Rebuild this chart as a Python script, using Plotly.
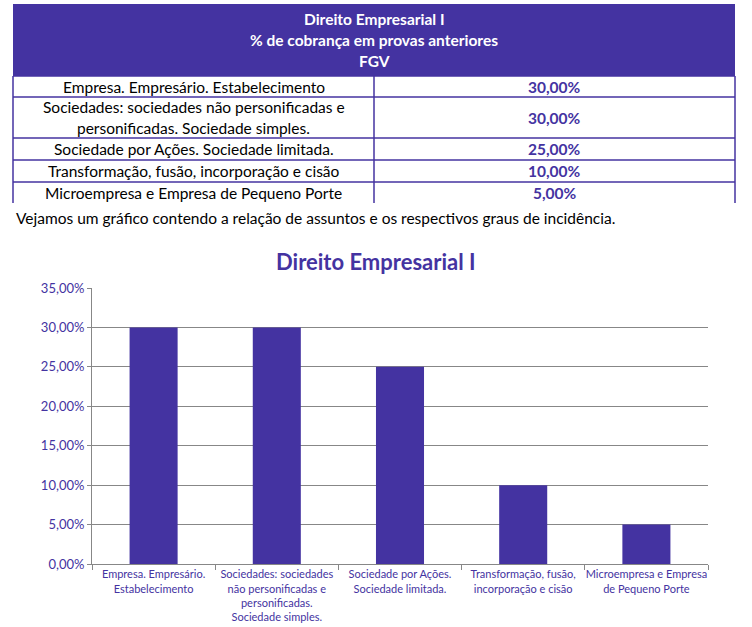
import plotly.graph_objects as go

# ---------------- data ----------------
table_title_lines = ["Direito Empresarial I", "% de cobrança em provas anteriores", "FGV"]
table_topics = [
    "Empresa. Empresário. Estabelecimento",
    "Sociedades: sociedades não personificadas e<br>personificadas. Sociedade simples.",
    "Sociedade por Ações. Sociedade limitada.",
    "Transformação, fusão, incorporação e cisão",
    "Microempresa e Empresa de Pequeno Porte",
]
chart_categories = [
    "Empresa. Empresário.<br>Estabelecimento",
    "Sociedades: sociedades<br>não personificadas e<br>personificadas.<br>Sociedade simples.",
    "Sociedade por Ações.<br>Sociedade limitada.",
    "Transformação, fusão,<br>incorporação e cisão",
    "Microempresa e Empresa<br>de Pequeno Porte",
]
percent_values = [30, 30, 25, 10, 5]
intro_text = "Vejamos um gráfico contendo a relação de assuntos e os respectivos graus de incidência."
chart_title = "Direito Empresarial I"

# ---------------- layout constants ----------------
W, H = 752, 627
PURPLE = "#4433A1"
GRID = "#878787"
FONT = "Lato"


def fx(x):
    return x / W


def fy(y):
    return 1 - y / H


def fmt(v):
    return f"{v:.2f}".replace(".", ",") + "%"


T_LEFT, T_RIGHT, T_DIV = 13, 735, 374
T_TOP, T_HEAD_BOTTOM = 4, 76
row_heights = [21, 41, 22, 22, 21]
line_step = 20

shapes = []
annotations = []

# header
shapes.append(dict(type="rect", xref="paper", yref="paper",
                   x0=fx(T_LEFT), x1=fx(T_RIGHT), y0=fy(T_HEAD_BOTTOM), y1=fy(T_TOP),
                   fillcolor=PURPLE, line=dict(width=0), layer="below"))
head_center = (T_TOP + T_HEAD_BOTTOM) / 2
for i, line in enumerate(table_title_lines):
    yc = head_center + (i - (len(table_title_lines) - 1) / 2) * 21
    annotations.append(dict(text=f"<b>{line}</b>", x=fx((T_LEFT + T_RIGHT) / 2), y=fy(yc),
                            xref="paper", yref="paper", showarrow=False,
                            xanchor="center", yanchor="middle",
                            font=dict(family=FONT, size=15.5, color="white")))

# body rows
y = T_HEAD_BOTTOM
bottom = T_HEAD_BOTTOM + sum(row_heights)
for x in (T_LEFT, T_DIV, T_RIGHT):
    shapes.append(dict(type="line", xref="paper", yref="paper",
                       x0=fx(x), x1=fx(x), y0=fy(T_HEAD_BOTTOM), y1=fy(bottom),
                       line=dict(color=PURPLE, width=1.5)))
for i, (topic, val) in enumerate(zip(table_topics, percent_values)):
    h = row_heights[i]
    if i > 0:
        shapes.append(dict(type="line", xref="paper", yref="paper",
                           x0=fx(T_LEFT), x1=fx(T_RIGHT), y0=fy(y), y1=fy(y),
                           line=dict(color=PURPLE, width=1.5)))
    yc = y + h / 2
    lines = topic.split("<br>")
    for j, ln in enumerate(lines):
        ly = yc + (j - (len(lines) - 1) / 2) * line_step
        annotations.append(dict(text=ln, x=fx((T_LEFT + T_DIV) / 2), y=fy(ly),
                                xref="paper", yref="paper", showarrow=False,
                                xanchor="center", yanchor="middle",
                                font=dict(family=FONT, size=15.5, color="black")))
    annotations.append(dict(text=f"<b>{fmt(val)}</b>", x=fx((T_DIV + T_RIGHT) / 2), y=fy(yc),
                            xref="paper", yref="paper", showarrow=False,
                            xanchor="center", yanchor="middle",
                            font=dict(family=FONT, size=15.5, color=PURPLE)))
    y += h
shapes.append(dict(type="line", xref="paper", yref="paper",
                   x0=fx(T_LEFT), x1=fx(T_RIGHT), y0=fy(T_HEAD_BOTTOM), y1=fy(T_HEAD_BOTTOM),
                   line=dict(color=PURPLE, width=1.5)))

# intro sentence
annotations.append(dict(text=intro_text, x=fx(14), y=fy(218), xref="paper", yref="paper",
                        showarrow=False, xanchor="left", yanchor="middle",
                        font=dict(family=FONT, size=15.5, color="black")))

# chart title
annotations.append(dict(text=f"<b>{chart_title}</b>", x=fx(376), y=fy(261), xref="paper", yref="paper",
                        showarrow=False, xanchor="center", yanchor="middle",
                        font=dict(family=FONT, size=22, color=PURPLE)))

# ---------------- figure ----------------
fig = go.Figure(go.Bar(x=chart_categories, y=percent_values, marker=dict(color=PURPLE, line=dict(width=0))))

fig.update_layout(
    width=W, height=H,
    margin=dict(l=0, r=0, t=0, b=0),
    paper_bgcolor="white", plot_bgcolor="white",
    separators=",.",
    bargap=0.61,
    showlegend=False,
    shapes=shapes,
    annotations=annotations,
    xaxis=dict(domain=[fx(92), fx(708)], automargin=False, showline=True, linecolor=GRID, linewidth=1,
               ticks="outside", tickson="boundaries", ticklen=5, tickcolor=GRID,
               showgrid=False, tickangle=0,
               tickfont=dict(family=FONT, size=11, color=PURPLE)),
    yaxis=dict(domain=[fy(564), fy(288)], automargin=False, range=[0, 35], dtick=5, tickformat=".2f",
               ticksuffix="%", showline=True, linecolor=GRID, linewidth=1,
               ticks="outside", ticklen=4, tickcolor=GRID,
               showgrid=True, gridcolor=GRID, gridwidth=1, zeroline=False,
               tickfont=dict(family=FONT, size=13, color=PURPLE)),
)

fig.write_html("out.html", config={"displayModeBar": False},
               post_script="document.body.style.margin='0';")
